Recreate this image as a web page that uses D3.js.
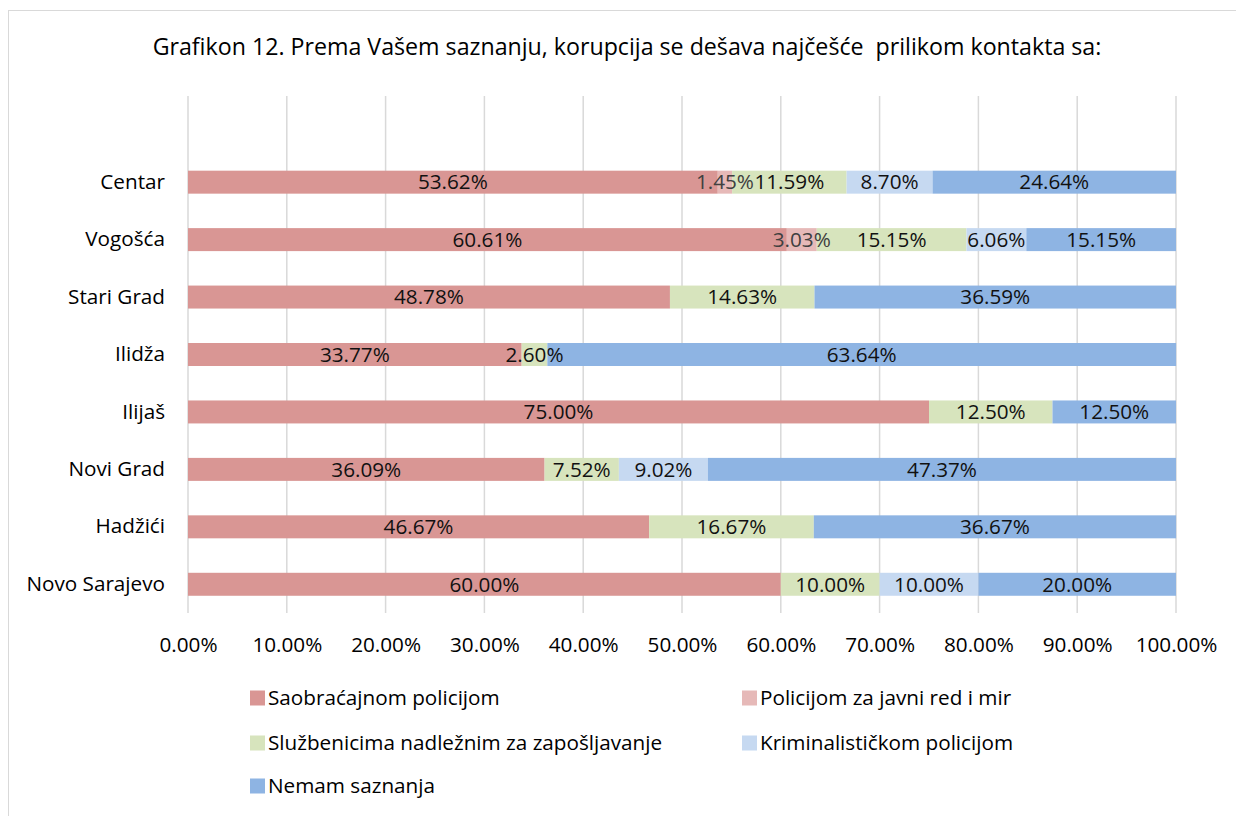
<!DOCTYPE html>
<html>
<head>
<meta charset="utf-8">
<script src="https://cdn.jsdelivr.net/npm/d3@7"></script>
<style>
  body { margin: 0; background: #fff; }
  svg text { font-family: "Open Sans", sans-serif; fill: #000; white-space: pre; }
</style>
</head>
<body>
<div id="chart"></div>
<script>
// categories, top to bottom
var categories = ["Centar", "Vogošća", "Stari Grad", "Ilidža", "Ilijaš", "Novi Grad", "Hadžići", "Novo Sarajevo"];

// series (percent values)
var seriesNames = ["Saobraćajnom policijom", "Policijom za javni red i mir", "Službenicima nadležnim za zapošljavanje", "Kriminalističkom policijom", "Nemam saznanja"];
var saobracajna = [53.62, 60.61, 48.78, 33.77, 75.00, 36.09, 46.67, 60.00];
var javniRed   = [1.45, 3.03, 0, 0, 0, 0, 0, 0];
var sluzbenici = [11.59, 15.15, 14.63, 2.60, 12.50, 7.52, 16.67, 10.00];
var kriminal   = [8.70, 6.06, 0, 0, 0, 9.02, 0, 10.00];
var nemam      = [24.64, 15.15, 36.59, 63.64, 12.50, 47.37, 36.67, 20.00];

var xTicks = [0, 10, 20, 30, 40, 50, 60, 70, 80, 90, 100];
var colors = ["#d99694", "#e6b9b8", "#d7e4bd", "#c6d9f1", "#8eb4e3"];

var title = "Grafikon 12. Prema Vašem saznanju, korupcija se dešava najčešće  prilikom kontakta sa:";

var width = 1236, height = 816;
var plot = {left: 188, right: 1176, top: 96, bottom: 613};
var fs = "20.7px";

var svg = d3.select("#chart").append("svg")
    .attr("width", width)
    .attr("height", height);

// chart frame
svg.append("rect")
    .attr("x", 8.5).attr("y", 10.5)
    .attr("width", 1240).attr("height", 820)
    .style("fill", "none").style("stroke", "#d9d9d9");

svg.append("text")
    .attr("x", 627).attr("y", 47)
    .attr("dy", "0.35em")
    .attr("text-anchor", "middle")
    .style("font-size", "23.2px")
    .text(title);

var x = d3.scaleLinear().domain([0, 100]).range([plot.left, plot.right]);
// Excel leaves an empty slot above the first category
var step = (plot.bottom - plot.top) / (categories.length + 1);
var y = d3.scaleBand().domain(categories)
    .range([plot.top + step, plot.bottom])
    .paddingInner(0.6).paddingOuter(0.3);

// gridlines
svg.append("g").selectAll("line").data(xTicks).enter()
    .append("line")
    .attr("x1", function(d){ return x(d); })
    .attr("x2", function(d){ return x(d); })
    .attr("y1", plot.top).attr("y2", plot.bottom)
    .style("stroke", "#d9d9d9").style("stroke-width", 1.5);

// x axis tick labels
var xAxis = d3.axisBottom(x).tickValues(xTicks).tickSize(0).tickPadding(0)
    .tickFormat(function(d){ return d.toFixed(2) + "%"; });
var gx = svg.append("g").attr("transform", "translate(0," + 645 + ")").call(xAxis);
gx.select(".domain").remove();
gx.selectAll("text").attr("dy", "0.35em").style("font-size", fs).attr("y", 0);

// y axis labels
var yAxis = d3.axisLeft(y).tickSize(0).tickPadding(23);
var gy = svg.append("g").attr("transform", "translate(" + plot.left + ",0)").call(yAxis);
gy.select(".domain").remove();
gy.selectAll("text").style("font-size", fs);

// stack the data
var rows = categories.map(function(c, i) {
    return {cat: c, vals: [saobracajna[i], javniRed[i], sluzbenici[i], kriminal[i], nemam[i]]};
});
var segs = [];
rows.forEach(function(r) {
    var acc = 0;
    r.vals.forEach(function(v, s) {
        segs.push({cat: r.cat, s: s, x0: acc, x1: acc + v, v: v});
        acc += v;
    });
});

var bars = svg.append("g");
bars.selectAll(".bar").data(segs.filter(function(d){ return d.v > 0; })).enter()
    .append("rect")
    .attr("class", "bar")
    .attr("x", function(d){ return x(d.x0); })
    .attr("width", function(d){ return x(d.x1) - x(d.x0); })
    .attr("y", function(d){ return y(d.cat); })
    .attr("height", y.bandwidth())
    .style("fill", function(d){ return colors[d.s]; });

bars.selectAll(".value").data(segs.filter(function(d){ return d.v > 0; })).enter()
    .append("text")
    .attr("class", "value")
    .attr("x", function(d){ return (x(d.x0) + x(d.x1)) / 2; })
    .attr("y", function(d){ return y(d.cat) + y.bandwidth() / 2; })
    .attr("dy", "0.35em")
    .attr("text-anchor", "middle")
    .style("font-size", fs)
    .style("fill", function(d){ return d.s === 1 ? "#404040" : "#111"; })
    .text(function(d){ return d.v.toFixed(2) + "%"; });

// legend, two columns
var legend = svg.append("g");
var legItems = legend.selectAll("g").data(seriesNames).enter()
    .append("g")
    .attr("transform", function(d, i){
        var col = i % 2, row = Math.floor(i / 2);
        return "translate(" + (col === 0 ? 250 : 742) + "," + [698, 743, 786][row] + ")";
    });
legItems.append("rect")
    .attr("x", 0).attr("y", -7.5)
    .attr("width", 15).attr("height", 15)
    .style("fill", function(d, i){ return colors[i]; });
legItems.append("text")
    .attr("x", 18).attr("dy", "0.35em")
    .style("font-size", fs)
    .text(function(d){ return d; });
</script>
</body>
</html>
